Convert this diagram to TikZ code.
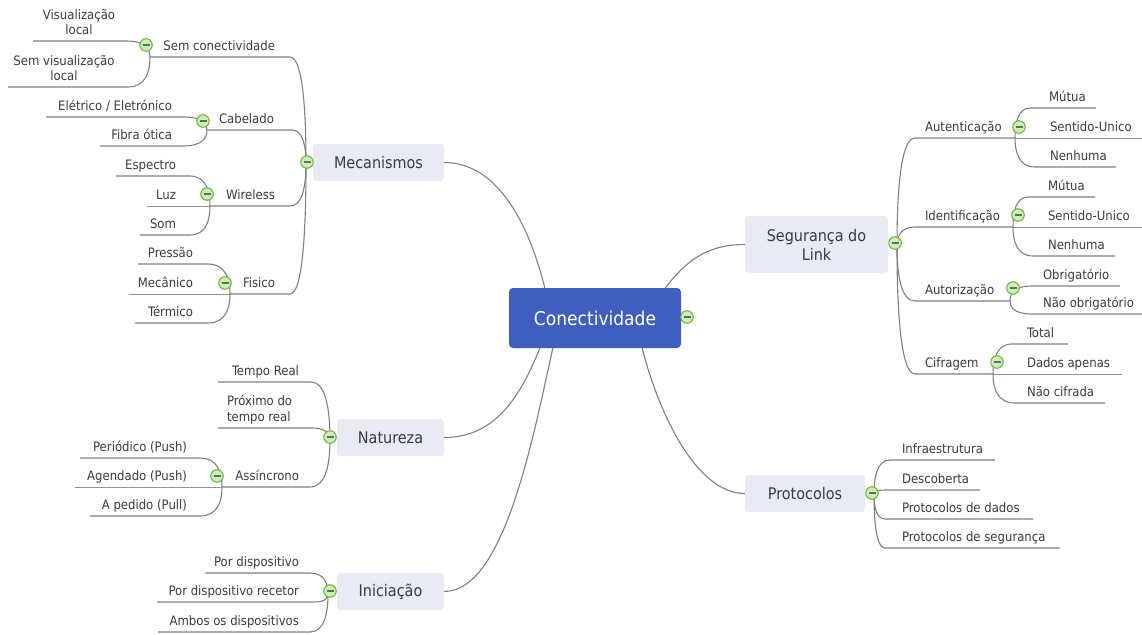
\documentclass[tikz,border=0pt]{standalone}
\usepackage{fontspec}
\setmainfont{DejaVu Sans Condensed}
\usetikzlibrary{calc}
\definecolor{linegray}{RGB}{128,128,128}
\definecolor{inkgray}{RGB}{58,58,66}
\definecolor{topicfill}{RGB}{234,234,244}
\definecolor{centralblue}{RGB}{64,94,189}
\definecolor{knobgreen}{RGB}{110,184,62}
\definecolor{knobfill}{RGB}{206,236,186}
\definecolor{knobbar}{RGB}{96,112,96}

% a branch: underline from its outer end to its inner end, then a curve to the parent junction
\newcommand\twig[5]{%
  \coordinate (#1o) at (#2,#4);
  \coordinate (#1i) at (#3,#4);
  \draw[conn] (#1o) -- (#1i) to[twigpath] (#5);
}
% a branch level with its junction: one straight underline
\newcommand\flattwig[4]{%
  \coordinate (#1o) at (#2,#3);
  \draw[conn, line width=0.8pt, draw=linegray!85] (#1o) -- (#4);
}

\begin{document}
\begin{tikzpicture}[x=1pt,y=-1pt,
  conn/.style={draw=linegray, line width=1.1pt},
  twigpath/.style={to path={.. controls ($(\tikztostart)!0.8!(\tikztostart-|\tikztotarget)$) and ($(\tikztotarget)!0.5!(\tikztotarget|-\tikztostart)$) .. (\tikztotarget)}},
  leaf/.style={inner sep=0, outer sep=0, text=inkgray, text depth=0pt, font=\fontsize{13}{16}\selectfont},
  topic/.style={rectangle, rounded corners=3, fill=topicfill, text=inkgray, font=\fontsize{16}{19}\selectfont, minimum height=37, inner sep=0, align=center},
  central/.style={rectangle, rounded corners=4, fill=centralblue, text=white, font=\fontsize{19}{22}\selectfont, minimum width=172, minimum height=60, inner sep=0},
  knob/.style={circle, draw=knobgreen, fill=knobfill, line width=1.1pt, minimum size=12.5, inner sep=0,
    path picture={\draw[knobbar, line width=1.3pt] ([xshift=-3.5]path picture bounding box.center) -- ([xshift=3.5]path picture bounding box.center);}}
]
\useasboundingbox (0,0) rectangle (1142,634);

% ---------- main topics ----------
\node[central] (cen) at (595,318) {Conectividade};
\node[topic, minimum width=131] (mec) at (378.5,162.5) {Mecanismos};
\node[topic, minimum width=107] (nat) at (390.5,437.5) {Natureza};
\node[topic, minimum width=107] (ini) at (390.5,591.5) {Iniciação};
\node[topic, minimum width=143, minimum height=57] (seg) at (816.5,244.5) {Segurança do\\Link};
\node[topic, minimum width=120] (pro) at (805,493.5) {Protocolos};

\draw[conn] (mec.east) .. controls +(55,0) and +(-15,-60) .. ($(cen.north west)+(36,0)$);
\draw[conn] (nat.east) .. controls +(50,0) and +(-20,50) .. ($(cen.south west)+(31,0)$);
\draw[conn] (ini.east) .. controls +(60,0) and +(-20,90) .. ($(cen.south west)+(44,0)$);
\draw[conn] (seg.west) .. controls +(-40,0) and +(20,-25) .. ($(cen.north east)+(-16,0)$);
\draw[conn] (pro.west) .. controls +(-50,0) and +(15,60) .. ($(cen.south east)+(-39,0)$);

% ---------- Mecanismos ----------
\coordinate (mecJ) at (306,164);
\twig{sc}{150}{290}{57}{mecJ}
\node[leaf, anchor=south east] (scT) at (275,50.5) {Sem conectividade};
\twig{vl}{33}{126}{41}{sco}
\node[leaf, anchor=south, align=center] (vlT) at (79,35) {Visualização\\local};
\twig{svl}{8}{128}{87}{sco}
\node[leaf, anchor=south, align=center] (svlT) at (64,81) {Sem visualização\\local};

\twig{cab}{207}{292}{130}{mecJ}
\node[leaf, anchor=south east] (cabT) at (274,123.5) {Cabelado};
\twig{ele}{46}{183}{117}{cabo}
\node[leaf, anchor=south east] (eleT) at (172,110.5) {Elétrico / Eletrónico};
\twig{fib}{100}{183}{146}{cabo}
\node[leaf, anchor=south east] (fibT) at (172,139.5) {Fibra ótica};

\twig{wir}{210}{290}{206}{mecJ}
\node[leaf, anchor=south east] (wirT) at (275,199.5) {Wireless};
\twig{esp}{116}{190}{176}{wiro}
\node[leaf, anchor=south east] (espT) at (176,169.5) {Espectro};
\flattwig{luz}{147}{206}{wiro}
\node[leaf, anchor=south east] (luzT) at (176,199.5) {Luz};
\twig{som}{140}{190}{235}{wiro}
\node[leaf, anchor=south east] (somT) at (176,228.5) {Som};

\twig{fis}{230}{290}{294}{mecJ}
\node[leaf, anchor=south east] (fisT) at (275,287.5) {Fisico};
\twig{pre}{138}{208}{264}{fiso}
\node[leaf, anchor=south east] (preT) at (193,257.5) {Pressão};
\flattwig{mcn}{129}{294}{fiso}
\node[leaf, anchor=south east] (mcnT) at (193,287.5) {Mecânico};
\twig{ter}{135}{208}{323}{fiso}
\node[leaf, anchor=south east] (terT) at (193,316.5) {Térmico};

% ---------- Natureza ----------
\coordinate (natJ) at (330,440);
\twig{tr}{218}{311}{382}{natJ}
\node[leaf, anchor=south east] (trT) at (299,375.5) {Tempo Real};
\twig{pt}{218}{312}{428}{natJ}
\node[leaf, anchor=south west, align=left] (ptT) at (227,421.5) {Próximo do\\tempo real};
\twig{as}{222}{310}{487}{natJ}
\node[leaf, anchor=south east] (asT) at (299,480.5) {Assíncrono};
\twig{per}{80}{200}{458}{aso}
\node[leaf, anchor=south east] (perT) at (187,451.5) {Periódico (Push)};
\flattwig{age}{75}{487}{aso}
\node[leaf, anchor=south east] (ageT) at (187,480.5) {Agendado (Push)};
\twig{ped}{90}{200}{516}{aso}
\node[leaf, anchor=south east] (pedT) at (187,509.5) {A pedido (Pull)};

% ---------- Iniciação ----------
\coordinate (iniJ) at (328,594);
\twig{pd}{205}{310}{573}{iniJ}
\node[leaf, anchor=south east] (pdT) at (299,566.5) {Por dispositivo};
\twig{pdr}{157}{314}{602}{iniJ}
\node[leaf, anchor=south east] (pdrT) at (299,595.5) {Por dispositivo recetor};
\twig{amb}{158}{310}{632}{iniJ}
\node[leaf, anchor=south east] (ambT) at (299,625.5) {Ambos os dispositivos};

% ---------- Segurança do Link ----------
\coordinate (segJ) at (897,246);
\twig{aut}{1015}{915}{138}{segJ}
\node[leaf, anchor=south west] (autT) at (925,131.5) {Autenticação};
\twig{am}{1096}{1030}{108}{auto}
\node[leaf, anchor=south west] (amT) at (1049,101.5) {Mútua};
\flattwig{asu}{1142}{138}{auto}
\node[leaf, anchor=south west] (asuT) at (1050,131.5) {Sentido-Unico};
\twig{an}{1116}{1035}{167}{auto}
\node[leaf, anchor=south west] (anT) at (1050,160.5) {Nenhuma};

\twig{ide}{1013}{915}{227}{segJ}
\node[leaf, anchor=south west] (ideT) at (925,220.5) {Identificação};
\twig{im}{1095}{1028}{197}{ideo}
\node[leaf, anchor=south west] (imT) at (1048,190.5) {Mútua};
\flattwig{isu}{1142}{227}{ideo}
\node[leaf, anchor=south west] (isuT) at (1048,220.5) {Sentido-Unico};
\twig{inh}{1115}{1033}{256}{ideo}
\node[leaf, anchor=south west] (inhT) at (1048,249.5) {Nenhuma};

\twig{aur}{1010}{915}{301}{segJ}
\node[leaf, anchor=south west] (aurT) at (925,294.5) {Autorização};
\twig{ob}{1120}{1032}{286}{auro}
\node[leaf, anchor=south west] (obT) at (1043,279.5) {Obrigatório};
\twig{nob}{1142}{1032}{314}{auro}
\node[leaf, anchor=south west] (nobT) at (1043,307.5) {Não obrigatório};

\twig{cif}{993}{915}{374}{segJ}
\node[leaf, anchor=south west] (cifT) at (925,367.5) {Cifragem};
\twig{tot}{1068}{1012}{344}{cifo}
\node[leaf, anchor=south west] (totT) at (1027,337.5) {Total};
\flattwig{dad}{1122}{374}{cifo}
\node[leaf, anchor=south west] (dadT) at (1027,367.5) {Dados apenas};
\twig{nci}{1105}{1015}{403}{cifo}
\node[leaf, anchor=south west] (nciT) at (1027,396.5) {Não cifrada};

% ---------- Protocolos ----------
\coordinate (proJ) at (874,494);
\twig{inf}{995}{890}{460}{proJ}
\node[leaf, anchor=south west] (infT) at (902,453.5) {Infraestrutura};
\twig{des}{980}{885}{490}{proJ}
\node[leaf, anchor=south west] (desT) at (902,483.5) {Descoberta};
\twig{pdd}{1033}{885}{519}{proJ}
\node[leaf, anchor=south west] (pddT) at (902,512.5) {Protocolos de dados};
\twig{pds}{1060}{885}{548}{proJ}
\node[leaf, anchor=south west] (pdsT) at (902,541.5) {Protocolos de segurança};

% ---------- collapse knobs ----------
\node[knob] (cenK) at (687,317) {};
\node[knob] (mecK) at (307,162) {};
\node[knob] (scK) at (146,45) {};
\node[knob] (cabK) at (203,121) {};
\node[knob] (wirK) at (207,194) {};
\node[knob] (fisK) at (225,283) {};
\node[knob] (natK) at (330,437) {};
\node[knob] (asK) at (217,476) {};
\node[knob] (iniK) at (330,591) {};
\node[knob] (segK) at (895,243) {};
\node[knob] (autK) at (1019,127) {};
\node[knob] (ideK) at (1018,215) {};
\node[knob] (aurK) at (1013,288) {};
\node[knob] (cifK) at (997,362) {};
\node[knob] (proK) at (872,493) {};
\end{tikzpicture}
\end{document}
